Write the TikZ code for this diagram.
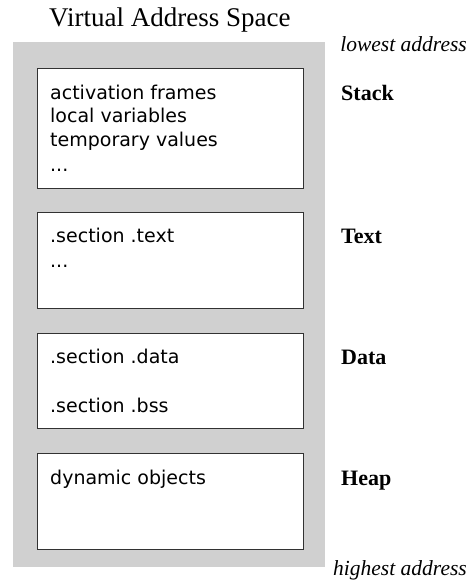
\documentclass[tikz,border=0pt]{standalone}
\usepackage{fontspec}
\setmainfont{Liberation Serif}
\newfontfamily\boxfont{DejaVu Sans}
\definecolor{spacegray}{RGB}{208,208,208}
\definecolor{edgegray}{RGB}{50,50,50}
\begin{document}
\begin{tikzpicture}[x=1pt,y=-1pt,
  region/.style={draw=edgegray, line width=0.9pt, fill=white, minimum width=266pt, inner sep=0pt},
  entry/.style={anchor=base west, inner sep=0pt, font=\boxfont\fontsize{19}{23}\selectfont},
  segname/.style={anchor=base west, inner sep=0pt, font=\bfseries\fontsize{22}{26}\selectfont},
  bound/.style={anchor=base east, inner sep=0pt, font=\itshape\fontsize{21.5}{26}\selectfont}]
\useasboundingbox (0,0) rectangle (471,587);

% title and the shaded address space
\node[anchor=base west, inner sep=0pt, font=\fontsize{27}{32}\selectfont] (title) at (49,26) {Virtual Address Space};
\fill[spacegray] (12.5,42) rectangle (325,567);

% segments
\node[region, minimum height=120pt] (stack) at (170,128) {};
\node[region, minimum height=96pt]  (text)  at (170,260) {};
\node[region, minimum height=95pt]  (data)  at (170,380.5) {};
\node[region, minimum height=96pt]  (heap)  at (170,501) {};

% segment contents
\node[entry] (s1) at (50,99.3)  {activation frames};
\node[entry] (s2) at (50,122.9) {local variables};
\node[entry] (s3) at (50,146.5) {temporary values};
\node[entry] (s4) at (50,171.5) {...};
\node[entry] (t1) at (50,242.7) {.section .text};
\node[entry] (t2) at (50,267)   {...};
\node[entry] (d1) at (50,363)   {.section .data};
\node[entry] (d2) at (50,412.7) {.section .bss};
\node[entry] (h1) at (50,484)   {dynamic objects};

% segment names
\node[segname] (lstack) at (341,100) {Stack};
\node[segname] (ltext)  at (341,243) {Text};
\node[segname] (ldata)  at (341,364) {Data};
\node[segname] (lheap)  at (341,485) {Heap};

% address bounds
\node[bound] (low)  at (467,51)  {lowest address};
\node[bound] (high) at (467,575) {highest address};
\end{tikzpicture}
\end{document}
